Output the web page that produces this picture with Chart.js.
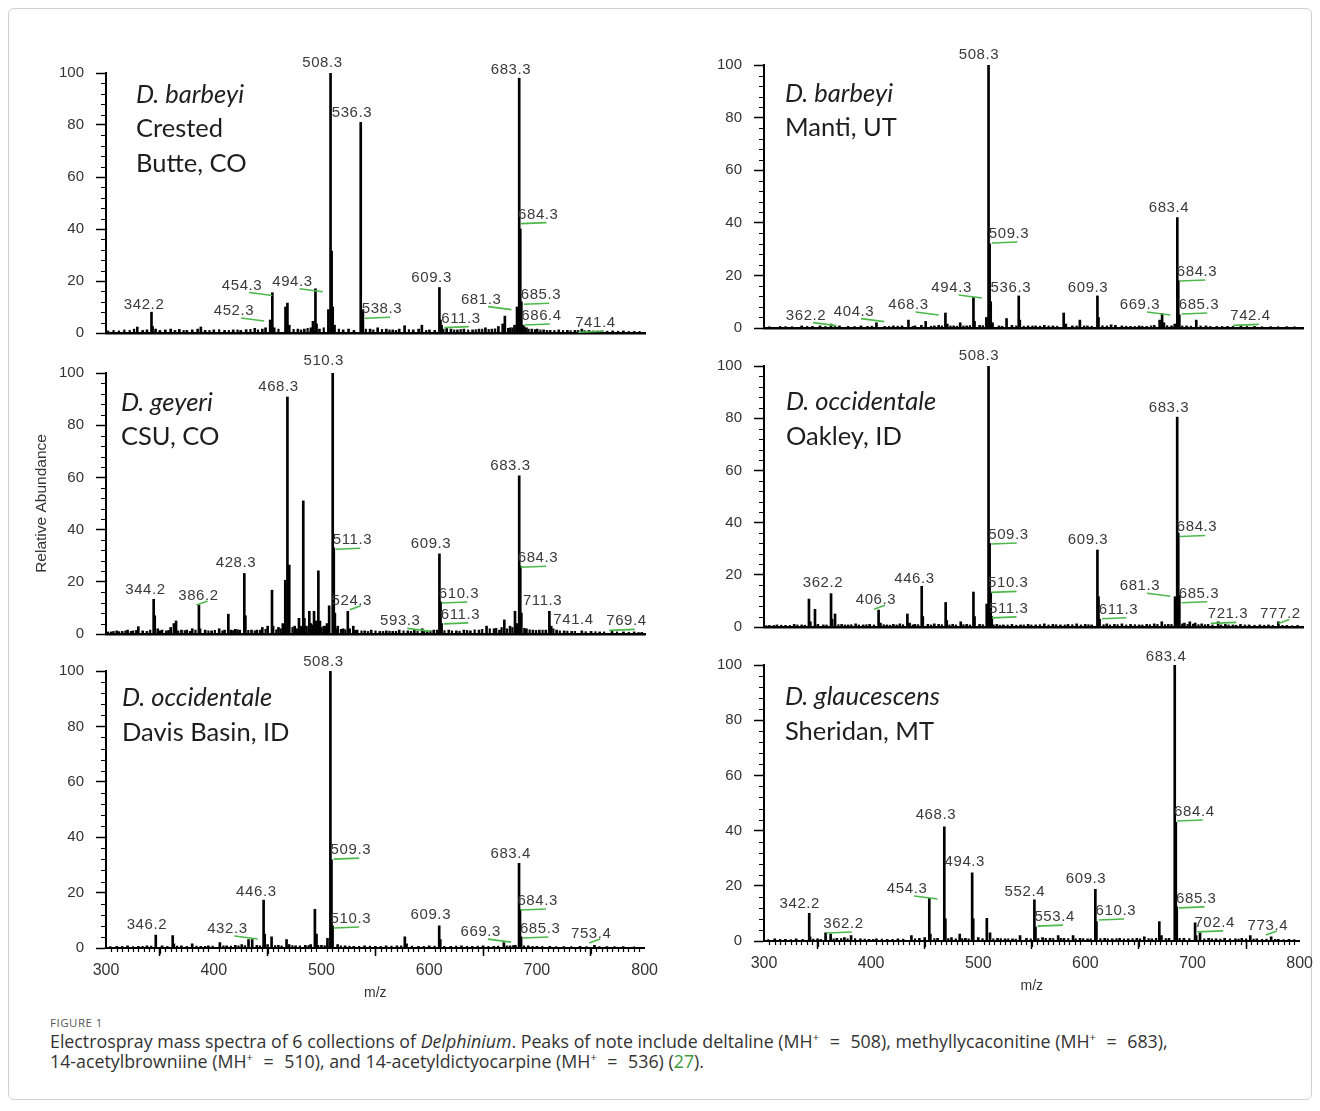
<!DOCTYPE html>
<html lang="en">
<head>
<meta charset="UTF-8">
<title>Delphinium - ESI mass spectra</title>
<script src="https://cdn.jsdelivr.net/npm/chart.js"></script>
<style>
  html, body { margin: 0; padding: 0; background: #fff; overflow: hidden; }
  .moldura { position: absolute; left: 8px; top: 8px; width: 1304px; height: 1092px; border: 1px solid #d0d0d0; border-radius: 6px; box-sizing: border-box; }
  canvas { position: absolute; }
  .fig { position: absolute; left: 50px; top: 1015px; font: 11.5px "Open Sans", sans-serif; color: #555; letter-spacing: 0.5px; }
  .legenda { position: absolute; left: 50px; top: 1031px; margin: 0; font: 17.8px/20px "Open Sans", sans-serif; color: #333; white-space: nowrap; }
  .legenda sup { font-size: 11px; line-height: 0; }
  .legenda .eq { margin: 0 6px; }
  .legenda .ref { color: #3a9a3a; }
</style>
</head>
<body>
<div class="moldura"></div>

<canvas id="p_tl"></canvas>
<canvas id="p_tr"></canvas>
<canvas id="p_ml"></canvas>
<canvas id="p_mr"></canvas>
<canvas id="p_bl"></canvas>
<canvas id="p_br"></canvas>

<div class="fig">FIGURE 1</div>
<p class="legenda">Electrospray mass spectra of 6 collections of <i>Delphinium</i>. Peaks of note include deltaline (MH<sup>+</sup> <span class="eq">=</span> 508), methyllycaconitine (MH<sup>+</sup> <span class="eq">=</span> 683),<br>14-acetylbrowniine (MH<sup>+</sup> <span class="eq">=</span> 510), and 14-acetyldictyocarpine (MH<sup>+</sup> <span class="eq">=</span> 536) (<span class="ref">27</span>).</p>

<script>
// ---- spectra: m/z and relative abundance (%) ----

// D. barbeyi, Crested Butte, CO
var mzTL = [329, 334, 338, 342.2, 343.2, 346, 350, 355, 360, 364, 368, 375, 380, 385, 388, 392, 400, 410, 418, 425, 430, 438, 445, 448,
  452.3, 454.3, 456, 466.5, 468.3, 470, 478, 484, 490, 492, 494.3, 495.3, 498, 506.3, 508.3, 509.3, 510.3, 512, 520, 525, 530,
  536.3, 538.3, 545, 552, 560, 566, 572, 577, 585, 590, 593, 600, 605, 609.3, 610.3, 611.3, 616, 620, 626, 632, 640, 646, 652,
  658, 664, 668, 670, 675, 679, 681.3, 683.3, 684.3, 685.3, 686.4, 690, 695, 700, 706, 712, 720, 728, 735, 741.4, 748, 760, 770, 780, 790];
var abTL = [2.3, 1.0, 1.2, 8.0, 2.5, 1.5, 1.0, 1.2, 1.5, 1.0, 1.4, 1.0, 1.2, 1.5, 2.3, 1.0, 1.2, 1.0, 1.2, 1.0, 1.3, 1.8, 1.5, 2.0,
  5.0, 15.5, 2.0, 10.0, 11.5, 3.0, 1.5, 1.5, 2.0, 4.5, 17.0, 3.5, 1.5, 9.0, 100, 31.5, 10.0, 3.0, 1.2, 1.5, 1.0,
  81, 9.0, 1.5, 2.0, 1.5, 1.2, 1.5, 2.8, 1.2, 1.5, 3.0, 1.2, 1.0, 17.5, 5.0, 3.0, 2.0, 1.5, 1.2, 1.5, 1.2, 1.5, 2.0,
  1.5, 2.5, 3.5, 6.5, 2.0, 3.0, 10.0, 98, 40, 12, 3.0, 2.0, 1.5, 1.5, 1.2, 1.0, 1.2, 1.0, 1.0, 1.5, 1.0, 0.8, 0.8, 0.8, 0.6];
var ruidoMzTL = [302, 307, 312, 317, 322, 326, 372, 396, 405, 414, 422, 434, 441, 460, 474, 481, 487, 502, 516, 541, 548, 556, 563,
  569, 581, 597, 613, 623, 629, 636, 643, 649, 655, 661, 673, 677, 688, 692, 698, 703, 709, 716, 724, 731, 738, 744, 752, 756, 765, 775, 785, 795];
var ruidoAbTL = [0.8, 1.0, 0.8, 1.2, 1.0, 1.5, 1.0, 1.0, 1.3, 1.0, 1.2, 1.4, 1.2, 1.5, 1.4, 1.2, 1.8, 2.0, 1.5, 1.5, 1.2, 1.4, 1.2,
  1.0, 1.3, 1.0, 1.5, 1.2, 1.4, 1.2, 1.3, 1.5, 1.4, 1.6, 1.8, 2.0, 2.5, 1.5, 1.3, 1.2, 1.0, 1.0, 1.0, 0.9, 1.0, 0.9, 0.8, 0.8, 0.7, 0.7, 0.6, 0.6];

// D. barbeyi, Manti, UT
var mzTR = [320, 335, 345, 352, 362.2, 370, 378, 390, 396, 404.3, 412, 420, 428, 434, 440, 446, 450, 458, 462, 468.3, 470, 476, 482,
  488, 494.3, 495.3, 500, 506.3, 508.3, 509.3, 510.3, 512, 518, 525, 530, 536.3, 537.3, 545, 552, 560, 568, 578, 580, 586, 593,
  600, 609.3, 610.3, 622, 626, 632, 640, 648, 655, 662, 667, 669.3, 671, 678, 681, 683.4, 684.3, 685.3, 692, 701, 710, 720, 730,
  742.4, 755, 770, 785];
var abTR = [0.5, 0.8, 0.6, 0.8, 1.5, 0.8, 0.6, 0.8, 0.6, 2.0, 0.6, 0.8, 0.8, 3.0, 0.8, 1.0, 2.5, 0.8, 1.0, 5.7, 1.5, 0.8, 2.0,
  0.8, 11.6, 2.5, 1.0, 4.0, 100, 32, 10, 2.0, 0.8, 3.6, 1.0, 12.2, 3.0, 0.8, 0.8, 1.0, 0.8, 5.7, 1.5, 0.8, 3.0,
  0.8, 12.2, 4.0, 1.2, 1.0, 0.8, 0.6, 0.8, 0.6, 1.0, 3.0, 5.4, 2.0, 0.8, 1.5, 42, 18, 5.0, 0.8, 3.0, 0.8, 0.6, 0.6,
  1.0, 0.6, 0.5, 0.5];
var ruidoMzTR = [305, 315, 326, 340, 357, 366, 384, 400, 416, 424, 438, 455, 465, 473, 479, 485, 491, 503, 521, 534, 541, 549, 556,
  564, 572, 590, 597, 604, 614, 618, 636, 644, 651, 659, 674, 688, 696, 705, 714, 725, 735, 748, 762, 777, 792];
var ruidoAbTR = [0.5, 0.6, 0.5, 0.6, 0.6, 0.7, 0.6, 0.7, 0.6, 0.7, 0.6, 0.7, 0.8, 0.8, 0.7, 0.8, 0.9, 0.9, 0.7, 0.8, 0.7, 0.8, 0.7,
  0.8, 0.7, 0.8, 0.8, 0.7, 0.9, 0.8, 0.7, 0.6, 0.7, 0.8, 0.9, 0.8, 0.7, 0.8, 0.6, 0.6, 0.6, 0.6, 0.5, 0.5, 0.5];

// D. geyeri, CSU, CO
var mzML = [305, 310, 315, 320, 325, 330, 334, 338, 344.2, 345.2, 348, 352, 356, 360, 363, 365, 370, 375, 380, 386.2, 387.2, 392,
  398, 405, 410, 413.5, 416, 420, 424, 428.3, 429.3, 435, 440, 445, 450, 454, 455, 460, 464, 466.3, 468.3, 470, 475, 479, 483,
  484, 486, 488.6, 490, 493, 495, 497, 498.5, 502, 505, 507, 510.3, 511.3, 512.3, 515, 520, 524.3, 526, 529.4, 533, 540, 546,
  554, 560, 566, 572, 580, 586, 593.3, 598, 604, 609.3, 610.3, 611.3, 618, 625, 632, 638, 646, 653, 660, 665, 669.5, 674.8,
  679.4, 681, 683.3, 684.3, 685.3, 690, 696, 702, 708, 711.3, 713, 718, 725, 732, 741.4, 750, 758, 769.4, 780, 790, 797];
var abML = [0.8, 1.2, 1.0, 1.5, 1.2, 2.8, 1.2, 1.0, 13.3, 7.0, 2.0, 1.5, 1.2, 2.5, 4.0, 5.0, 1.5, 1.5, 2.0, 11.0, 2.0, 1.5,
  1.2, 2.0, 1.5, 7.6, 1.5, 1.8, 1.5, 23.2, 7.0, 1.5, 1.5, 2.5, 3.0, 16.8, 3.0, 2.5, 4.0, 20.6, 90.8, 26.4, 3.0, 6.0, 51,
  6.0, 3.0, 8.7, 4.0, 8.7, 5.0, 24.2, 5.0, 3.0, 4.0, 10.8, 100, 33, 8.0, 3.0, 2.0, 8.7, 2.0, 3.0, 1.5, 1.2, 1.5,
  1.0, 1.2, 1.0, 1.5, 1.2, 1.5, 2.0, 1.2, 1.5, 30.7, 12.3, 4.0, 1.5, 1.2, 1.5, 1.2, 1.5, 3.0, 2.0, 1.5, 5.4, 3.0,
  8.7, 4.0, 60.6, 26, 8.0, 2.0, 1.5, 1.5, 1.5, 8.7, 3.0, 1.5, 1.2, 1.0, 1.2, 1.0, 0.8, 1.0, 0.8, 0.8, 0.6];
var ruidoMzML = [302, 307, 312, 318, 323, 328, 341, 350, 358, 367, 373, 378, 383, 395, 401, 408, 418, 422, 432, 438, 443, 448, 458,
  462, 473, 477, 481, 492, 500, 504, 514, 518, 522, 531, 537, 543, 550, 557, 563, 569, 576, 583, 589, 595, 601, 607, 614, 621,
  628, 635, 642, 649, 656, 662, 667, 672, 677, 688, 693, 699, 705, 715, 721, 728, 735, 745, 754, 762, 774, 785, 794];
var ruidoAbML = [0.8, 1.0, 0.9, 1.2, 1.0, 1.4, 1.5, 1.2, 1.4, 1.2, 1.3, 1.0, 1.5, 1.2, 1.4, 1.2, 1.3, 1.6, 1.4, 1.2, 1.5, 1.8, 1.6,
  2.0, 2.5, 2.0, 3.0, 3.5, 2.5, 3.0, 2.0, 1.8, 1.6, 1.4, 1.2, 1.0, 1.2, 1.0, 1.1, 1.0, 1.2, 1.0, 1.1, 1.3, 1.2, 1.5, 1.3, 1.2,
  1.1, 1.4, 1.6, 1.8, 2.0, 2.2, 2.5, 2.0, 2.5, 2.2, 1.6, 1.4, 1.5, 2.0, 1.2, 1.1, 1.0, 0.9, 0.9, 0.8, 0.8, 0.7, 0.6];

// D. occidentale, Oakley, ID
var mzMR = [305, 312, 320, 328, 335, 341.7, 343, 347.3, 350, 355, 362.2, 363.2, 365.9, 372, 378, 385, 392, 398, 406.3, 408, 414,
  420, 426, 433, 435, 440, 446.3, 447.3, 452, 458, 462, 468.5, 469.5, 475, 482.5, 488, 494.3, 495.3, 500, 506.6, 508.3, 509.3,
  510.3, 511.3, 516, 522, 530, 538, 545, 552, 560, 568, 575, 582, 590, 598, 604, 609.3, 610.3, 611.3, 618, 625, 632, 640, 648,
  655, 662, 669, 675, 681.3, 683.3, 684.3, 685.3, 690, 695, 700, 706, 712, 721.3, 728, 735, 742, 750, 760, 768, 777.2, 785, 795];
var abMR = [0.6, 0.8, 0.6, 1.0, 0.8, 10.7, 2.0, 6.8, 1.0, 0.8, 12.8, 3.0, 5.0, 1.0, 0.8, 1.2, 0.8, 1.0, 6.5, 1.5, 0.8,
  1.0, 1.2, 5.0, 1.5, 1.0, 15.6, 4.0, 1.0, 1.2, 1.0, 9.4, 2.5, 1.0, 2.0, 1.0, 13.4, 4.0, 1.0, 8.8, 100, 32,
  13, 4.0, 1.0, 0.8, 1.0, 0.8, 1.0, 0.8, 1.2, 1.0, 0.8, 1.0, 1.2, 1.0, 0.8, 29.5, 11.6, 3.0, 1.2, 1.0, 1.2, 1.0, 0.8,
  1.0, 1.2, 2.0, 1.0, 11.6, 80.4, 36, 12, 1.5, 2.0, 1.5, 1.2, 1.0, 2.0, 1.0, 0.8, 1.0, 0.8, 0.8, 0.8, 2.0, 0.6, 0.6];
var ruidoMzMR = [302, 309, 316, 324, 331, 338, 358, 369, 375, 381, 388, 395, 402, 411, 417, 423, 429, 438, 443, 455, 465, 472, 478,
  485, 491, 503, 513, 519, 526, 534, 541, 548, 556, 564, 571, 579, 586, 594, 601, 615, 621, 628, 636, 644, 651, 658, 665, 672,
  678, 688, 693, 698, 703, 709, 716, 724, 731, 738, 746, 755, 764, 772, 781, 790];
var ruidoAbMR = [0.5, 0.6, 0.7, 0.6, 0.8, 0.7, 0.8, 0.9, 0.8, 0.9, 0.8, 0.9, 0.8, 0.9, 0.7, 0.8, 0.9, 0.8, 0.9, 0.8, 0.9, 0.8, 0.8,
  0.9, 0.8, 0.9, 0.8, 0.7, 0.8, 0.7, 0.8, 0.8, 0.9, 0.8, 0.9, 0.8, 0.9, 0.8, 0.9, 0.9, 0.8, 0.9, 0.8, 0.9, 0.8, 0.9, 1.0, 0.9,
  1.0, 1.2, 1.0, 1.1, 0.9, 0.9, 0.8, 0.8, 0.8, 0.7, 0.8, 0.7, 0.7, 0.6, 0.6, 0.5];

// D. occidentale, Davis Basin, ID
var mzBL = [310, 320, 330, 338, 346.2, 352, 361.9, 363, 370, 380, 388, 395, 405.7, 412, 420, 426, 432.3, 435.7, 440, 446.3, 447.3,
  450, 453.7, 460, 467.6, 470, 476, 485, 490, 493.9, 495.4, 500, 505.6, 508.3, 509.3, 510.3, 515, 522, 530, 540, 550, 560, 570,
  577.4, 579, 590, 600, 609.3, 610.3, 620, 630, 640, 650, 660, 669.3, 675, 680, 683.4, 684.3, 685.3, 692, 700, 712, 725, 740,
  753.4, 765, 780];
var abBL = [0.6, 0.8, 0.6, 0.8, 4.7, 0.8, 4.5, 1.5, 0.8, 1.5, 0.6, 0.8, 2.0, 0.8, 1.0, 1.2, 3.0, 3.0, 1.0, 17.3, 5.0,
  1.2, 4.0, 1.0, 3.0, 1.2, 0.8, 1.0, 1.2, 14.0, 5.0, 1.0, 3.5, 100, 31.8, 8.0, 1.2, 0.8, 0.6, 0.8, 0.6, 0.8, 0.8,
  4.0, 1.5, 0.6, 0.8, 8.0, 3.0, 0.6, 0.8, 0.6, 0.8, 0.6, 2.0, 0.8, 1.0, 30.6, 14, 4.0, 0.8, 0.6, 0.6, 0.5, 0.6,
  1.0, 0.5, 0.5];
var ruidoMzBL = [304, 315, 325, 334, 342, 357, 366, 375, 384, 392, 399, 409, 416, 423, 429, 443, 457, 463, 473, 480, 488, 497, 503,
  518, 526, 535, 545, 555, 565, 574, 584, 595, 605, 614, 625, 635, 645, 655, 664, 672, 678, 688, 696, 705, 718, 732, 746, 758, 772, 790];
var ruidoAbBL = [0.5, 0.6, 0.5, 0.6, 0.7, 0.6, 0.7, 0.6, 0.7, 0.6, 0.7, 0.8, 0.7, 0.8, 0.9, 0.8, 0.9, 0.8, 0.9, 0.8, 0.9, 1.0, 0.9,
  0.8, 0.7, 0.6, 0.7, 0.6, 0.7, 0.8, 0.7, 0.6, 0.7, 0.6, 0.7, 0.6, 0.7, 0.6, 0.7, 0.8, 0.9, 0.8, 0.6, 0.6, 0.5, 0.5, 0.5, 0.5, 0.5, 0.4];

// D. glaucescens, Sheridan, MT
var mzBR = [310, 320, 330, 342.2, 343, 350, 357.5, 362.2, 368, 375, 381.3, 390, 398, 405, 415, 425, 437.6, 445, 450, 454.3, 455.3,
  462, 468.3, 469.3, 475, 482.7, 488, 494.3, 495.3, 500, 508, 511, 518, 525, 532, 539, 545, 552.4, 553.4, 560, 567, 574.6, 580,
  588.5, 595, 602, 609.3, 610.3, 618, 625, 632, 640, 648, 655, 662, 669, 671, 678, 683.4, 684.4, 685.3, 692, 702.4, 703.4, 707,
  715, 722, 730, 740, 746, 753.9, 760, 773.4, 780, 790];
var abBR = [0.8, 0.6, 0.8, 10.0, 1.5, 0.8, 3.0, 2.5, 1.0, 1.2, 2.0, 0.8, 0.6, 0.8, 0.6, 0.8, 2.0, 1.0, 1.2, 15.5, 2.5,
  1.0, 41.4, 8.0, 1.2, 2.5, 1.0, 24.7, 8.0, 1.2, 8.2, 3.0, 1.0, 0.8, 0.8, 2.0, 1.0, 14.9, 5.0, 1.2, 1.0, 2.0, 1.0,
  2.0, 1.0, 0.8, 18.7, 7.0, 1.0, 0.8, 1.0, 0.8, 1.0, 1.5, 0.8, 7.0, 2.0, 1.0, 100, 43, 12.4, 1.0, 6.6, 2.0, 3.0,
  1.0, 0.8, 1.0, 0.8, 1.0, 2.0, 0.8, 1.5, 0.6, 0.6];
var ruidoMzBR = [304, 315, 325, 336, 346, 353, 365, 372, 378, 385, 394, 402, 410, 420, 430, 441, 459, 472, 479, 485, 491, 504, 514,
  521, 528, 535, 549, 556, 563, 570, 577, 584, 591, 598, 605, 614, 621, 629, 636, 644, 651, 659, 666, 675, 688, 697, 711, 718,
  726, 735, 743, 750, 757, 765, 769, 777, 785, 795];
var ruidoAbBR = [0.5, 0.6, 0.5, 0.6, 0.7, 0.6, 0.8, 0.9, 0.8, 0.9, 0.7, 0.6, 0.7, 0.6, 0.7, 0.8, 0.9, 0.9, 0.8, 0.9, 0.8, 0.9, 0.8,
  0.9, 0.8, 0.7, 0.8, 0.9, 1.0, 0.9, 1.0, 0.9, 0.8, 0.9, 0.8, 0.9, 0.8, 0.9, 0.8, 0.9, 0.8, 0.9, 1.0, 0.9, 1.0, 0.9, 0.8, 0.8,
  0.7, 0.8, 0.7, 0.8, 0.7, 0.6, 0.7, 0.6, 0.5, 0.5];

// ---- peak labels: text, m/z of label centre, abundance of baseline, green mark (0 none, 1 under, 2 toward peak, 3 short) ----
var rotTL = [["508.3", 500.8, 102.2, 0], ["536.3", 528.2, 82.9, 0], ["342.2", 335.3, 9.1, 0], ["454.3", 426.2, 16.7, 2],
  ["494.3", 473.0, 18.2, 2], ["452.3", 418.7, 6.9, 2], ["538.3", 556.0, 7.6, 1], ["609.3", 602.0, 19.6, 0],
  ["611.3", 629.3, 4.0, 1], ["681.3", 648.0, 11.3, 2], ["683.3", 675.7, 99.6, 0], ["684.3", 701.0, 44.0, 1],
  ["685.3", 703.5, 13.0, 1], ["686.4", 704.0, 5.0, 1], ["741.4", 754.0, 2.2, 1]];
var rotTR = [["508.3", 499.4, 102.2, 0], ["362.2", 339.0, 3.2, 2], ["404.3", 383.5, 4.7, 2], ["468.3", 434.0, 7.2, 2],
  ["494.3", 474.0, 13.7, 2], ["509.3", 527.3, 34.2, 1], ["536.3", 529.0, 13.7, 0], ["609.3", 600.6, 13.7, 0],
  ["669.3", 648.8, 7.2, 2], ["683.4", 675.7, 44.2, 0], ["684.3", 701.7, 19.8, 1], ["685.3", 703.5, 7.2, 1],
  ["742.4", 751.3, 2.9, 1]];
var rotML = [["510.3", 502.0, 102.9, 0], ["468.3", 460.0, 93.1, 0], ["428.3", 420.6, 25.7, 0], ["344.2", 336.6, 15.2, 0],
  ["386.2", 385.8, 13.0, 3], ["511.3", 528.7, 34.4, 1], ["524.3", 528.0, 11.2, 3], ["593.3", 573.0, 3.3, 2],
  ["609.3", 601.5, 33.0, 0], ["610.3", 627.5, 13.8, 1], ["611.3", 628.8, 5.8, 1], ["683.3", 675.2, 63.0, 0],
  ["684.3", 700.7, 27.5, 1], ["711.3", 705.0, 11.2, 0], ["741.4", 733.7, 4.0, 0], ["769.4", 782.8, 3.3, 1]];
var rotMR = [["508.3", 499.4, 102.3, 0], ["362.2", 354.7, 15.2, 0], ["406.3", 403.9, 8.7, 3], ["446.3", 439.6, 17.0, 0],
  ["509.3", 526.8, 33.7, 1], ["510.3", 526.6, 15.2, 1], ["511.3", 527.0, 5.4, 1], ["609.3", 600.6, 31.9, 0],
  ["611.3", 628.9, 5.1, 1], ["681.3", 648.8, 14.1, 2], ["683.3", 675.7, 82.2, 0], ["684.3", 701.7, 36.6, 1],
  ["685.3", 703.5, 11.2, 1], ["721.3", 730.4, 3.3, 1], ["777.2", 779.0, 3.3, 3]];
var rotBL = [["508.3", 501.8, 101.8, 0], ["346.2", 338.0, 6.9, 0], ["432.3", 412.7, 5.4, 2], ["446.3", 439.6, 18.8, 0],
  ["509.3", 527.3, 33.9, 1], ["510.3", 527.3, 9.0, 1], ["609.3", 601.5, 10.5, 0], ["669.3", 647.9, 4.3, 2],
  ["683.4", 675.7, 32.5, 0], ["684.3", 700.7, 15.5, 1], ["685.3", 703.0, 5.4, 1], ["753.4", 750.4, 3.6, 3]];
var rotBR = [["683.4", 675.3, 101.6, 0], ["342.2", 333.4, 12.0, 0], ["362.2", 374.2, 4.7, 1], ["454.3", 433.6, 17.4, 2],
  ["468.3", 460.5, 44.2, 0], ["494.3", 487.4, 27.2, 0], ["552.4", 543.5, 16.3, 0], ["553.4", 571.3, 7.2, 1],
  ["609.3", 600.6, 21.0, 0], ["610.3", 628.4, 9.4, 1], ["684.4", 701.7, 45.3, 1], ["685.3", 703.5, 13.8, 1],
  ["702.4", 720.7, 5.1, 1], ["773.4", 770.3, 4.0, 3]];

// species / location text
var especieTL = ["D. barbeyi", "Crested", "Butte, CO"];
var especieTR = ["D. barbeyi", "Manti, UT"];
var especieML = ["D. geyeri", "CSU, CO"];
var especieMR = ["D. occidentale", "Oakley, ID"];
var especieBL = ["D. occidentale", "Davis Basin, ID"];
var especieBR = ["D. glaucescens", "Sheridan, MT"];

var ticksY = [0, 20, 40, 60, 80, 100];

// panel placement on the page
var paineis = [
  { id: 'p_tl', mz: mzTL, ab: abTL, rmz: ruidoMzTL, rab: ruidoAbTL, rot: rotTL, esp: especieTL, left: 24,  top: 43,  w: 639, area: 275, larguraY: 82, padR: 18, baixo: false, titY: false, espX: 30, espY: [30, 64, 99] },
  { id: 'p_tr', mz: mzTR, ab: abTR, rmz: ruidoMzTR, rab: ruidoAbTR, rot: rotTR, esp: especieTR, left: 698, top: 35,  w: 620, area: 278, larguraY: 66, padR: 15, baixo: false, titY: false, espX: 21, espY: [37, 71] },
  { id: 'p_ml', mz: mzML, ab: abML, rmz: ruidoMzML, rab: ruidoAbML, rot: rotML, esp: especieML, left: 24,  top: 343, w: 639, area: 276, larguraY: 82, padR: 18, baixo: false, titY: true,  espX: 15, espY: [38, 72] },
  { id: 'p_mr', mz: mzMR, ab: abMR, rmz: ruidoMzMR, rab: ruidoAbMR, rot: rotMR, esp: especieMR, left: 698, top: 336, w: 620, area: 276, larguraY: 66, padR: 15, baixo: false, titY: false, espX: 22, espY: [44, 79] },
  { id: 'p_bl', mz: mzBL, ab: abBL, rmz: ruidoMzBL, rab: ruidoAbBL, rot: rotBL, esp: especieBL, left: 24,  top: 641, w: 639, area: 277, larguraY: 82, padR: 18, baixo: true,  titY: false, espX: 16, espY: [35, 70] },
  { id: 'p_br', mz: mzBR, ab: abBR, rmz: ruidoMzBR, rab: ruidoAbBR, rot: rotBR, esp: especieBR, left: 698, top: 635, w: 620, area: 276, larguraY: 66, padR: 15, baixo: true,  titY: false, espX: 21, espY: [40, 75] }
];

var PAD_TOPO = 30;
var ALT_X = 60;
var FONTE = '"Liberation Sans", Arial, sans-serif';

// short ticks between the labelled ones
var marcasMenores = {
  id: 'marcasMenores',
  afterDraw(chart, args, opts) {
    var ctx = chart.ctx, area = chart.chartArea, x = chart.scales.x, y = chart.scales.y;
    ctx.save();
    ctx.strokeStyle = '#000';
    ctx.lineWidth = 1.2;
    ctx.beginPath();
    for (var v = 0; v <= 100; v += 4) {
      if (v % 20 === 0) continue;
      var py = Math.round(y.getPixelForValue(v)) + 0.5;
      ctx.moveTo(area.left - 5, py);
      ctx.lineTo(area.left, py);
    }
    if (opts.eixoX) {
      for (var m = 305; m < 800; m += 5) {
        if (m % 100 === 0) continue;
        var px = Math.round(x.getPixelForValue(m)) + 0.5;
        ctx.moveTo(px, area.bottom);
        ctx.lineTo(px, area.bottom + (m % 50 === 0 ? 6 : 4));
      }
    }
    ctx.stroke();
    ctx.restore();
  }
};

// m/z labels over the peaks, with the green marks, plus the species text
var rotulosPicos = {
  id: 'rotulosPicos',
  afterDatasetsDraw(chart, args, opts) {
    var ctx = chart.ctx, area = chart.chartArea, x = chart.scales.x, y = chart.scales.y;
    ctx.save();
    ctx.font = '15px ' + FONTE;
    ctx.letterSpacing = '0.6px';
    ctx.textAlign = 'center';
    ctx.textBaseline = 'alphabetic';
    opts.rotulos.forEach(function (r) {
      var cx = x.getPixelForValue(r[1]);
      var by = y.getPixelForValue(r[2]);
      ctx.fillStyle = '#3a3a3a';
      ctx.fillText(r[0], cx, by);
      if (!r[3]) return;
      var h = ctx.measureText(r[0]).width / 2;
      ctx.strokeStyle = '#4cb84c';
      ctx.lineWidth = 1.6;
      ctx.beginPath();
      if (r[3] === 1) { ctx.moveTo(cx - h + 3, by + 5); ctx.lineTo(cx + h - 12, by + 4); }
      else if (r[3] === 2) { ctx.moveTo(cx + 7, by + 3); ctx.lineTo(cx + h + 10, by + 6); }
      else { ctx.moveTo(cx - 2, by + 5); ctx.lineTo(cx + 9, by + 1); }
      ctx.stroke();
    });

    ctx.letterSpacing = '0px';
    ctx.textAlign = 'left';
    ctx.fillStyle = '#1e1e1e';
    opts.especie.forEach(function (linha, i) {
      ctx.font = (i === 0 ? 'italic ' : '') + '25.5px Lato, "Open Sans", sans-serif';
      ctx.fillText(linha, area.left + opts.espX, area.top + opts.espY[i]);
    });
    ctx.restore();
  }
};

function montarPainel(p) {
  var canvas = document.getElementById(p.id);
  var altura = PAD_TOPO + p.area + (p.baixo ? ALT_X : 6);
  canvas.width = p.w;
  canvas.height = altura;
  canvas.style.left = p.left + 'px';
  canvas.style.top = p.top + 'px';

  var picos = p.mz.map(function (m, i) { return { x: m, y: p.ab[i] }; });
  var ruido = p.rmz.map(function (m, i) { return { x: m, y: p.rab[i] }; });

  return new Chart(canvas, {
    type: 'bar',
    data: {
      datasets: [
        { data: picos, backgroundColor: '#000', borderWidth: 0, barThickness: 2, grouped: false },
        { data: ruido, backgroundColor: '#000', borderWidth: 0, barThickness: 1.5, grouped: false }
      ]
    },
    options: {
      responsive: false,
      animation: false,
      events: [],
      layout: { padding: { top: PAD_TOPO, right: p.padR, bottom: p.baixo ? 0 : 6, left: 0 } },
      plugins: {
        legend: { display: false },
        tooltip: { enabled: false },
        marcasMenores: { eixoX: p.baixo },
        rotulosPicos: { rotulos: p.rot, especie: p.esp, espX: p.espX, espY: p.espY }
      },
      scales: {
        x: {
          type: 'linear',
          min: 300,
          max: 800,
          offset: false,
          afterFit: function (s) { s.height = p.baixo ? ALT_X : 0; },
          border: { display: true, color: '#000', width: p.baixo ? 2 : 2.5 },
          grid: { drawOnChartArea: false, drawTicks: p.baixo, tickLength: 8, tickColor: '#000', tickWidth: 1.5 },
          ticks: {
            display: p.baixo,
            stepSize: 100,
            autoSkip: false,
            maxRotation: 0,
            padding: 5,
            color: '#333',
            font: { family: FONTE, size: 16 }
          },
          title: {
            display: p.baixo,
            text: 'm/z',
            color: '#333',
            padding: { top: 0, bottom: 6 },
            font: { family: FONTE, size: 14 }
          }
        },
        y: {
          min: 0,
          max: 100,
          afterFit: function (s) { s.width = p.larguraY; },
          afterBuildTicks: function (s) { s.ticks = ticksY.map(function (v) { return { value: v }; }); },
          border: { display: true, color: '#000', width: 2 },
          grid: { drawOnChartArea: false, tickLength: 10, tickColor: '#000', tickWidth: 1.5 },
          ticks: {
            padding: 12,
            color: '#333',
            font: { family: FONTE, size: 15 }
          },
          title: {
            display: p.titY,
            text: 'Relative Abundance',
            color: '#333',
            padding: { top: 8, bottom: 0 },
            font: { family: FONTE, size: 15.5 }
          }
        }
      }
    },
    plugins: [marcasMenores, rotulosPicos]
  });
}

paineis.forEach(montarPainel);
</script>
</body>
</html>
